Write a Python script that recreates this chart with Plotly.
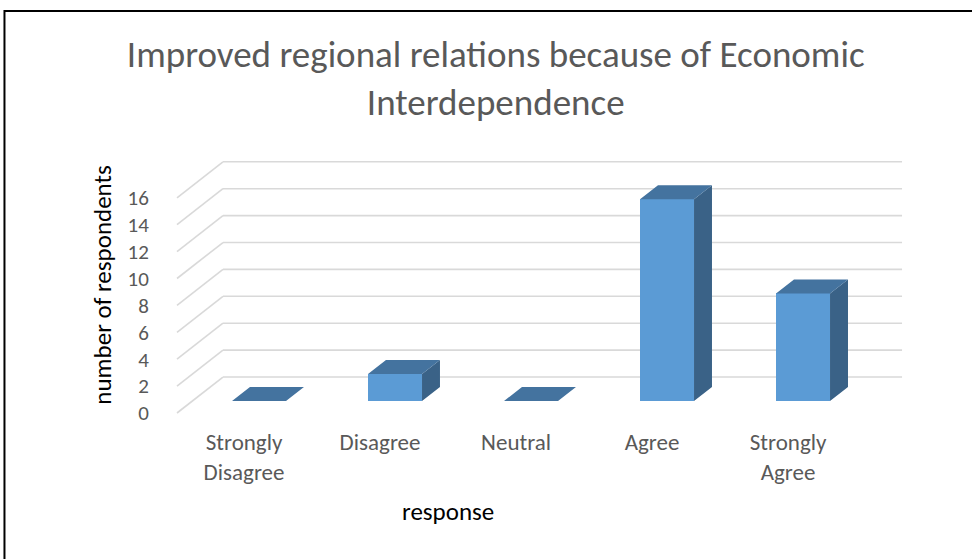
import plotly.graph_objects as go

# ---- data ----
categories = ["Strongly Disagree", "Disagree", "Neutral", "Agree", "Strongly Agree"]
category_labels = ["Strongly<br>Disagree", "Disagree", "Neutral", "Agree", "Strongly<br>Agree"]
values = [0, 2, 0, 15, 8]
y_ticks = [0, 2, 4, 6, 8, 10, 12, 14, 16]

# ---- pseudo-3D geometry (data units; x = category index, y = value) ----
BAR_W = 0.397
DEPTH_DX, DEPTH_DY = 0.132, 1.04       # bar depth
FLOOR_DY = -0.892                       # front floor edge relative to bar plane
WALL_DY = 1.784                         # back wall relative to bar plane
WALL_LEFT_X, WALL_RIGHT_X = -0.265, 4.728
FRONT_LEFT_X = -0.603
LABEL_SHIFT = -0.11

FRONT = "#5B9BD5"
TOP = "#44739F"
SIDE = "#3A6287"
GRID = "#D9D9D9"
FONT = "Calibri, Carlito, Lato, sans-serif"

xs = list(range(len(categories)))

fig = go.Figure()

# side faces
sx, sy = [], []
for i, v in zip(xs, values):
    r = i + BAR_W / 2
    sx += [r, r, r + DEPTH_DX, r + DEPTH_DX, r, None]
    sy += [0, v, v + DEPTH_DY, DEPTH_DY, 0, None]
fig.add_trace(go.Scatter(x=sx, y=sy, mode="lines", fill="toself", fillcolor=SIDE,
                         line=dict(width=0, color=SIDE), hoverinfo="skip", showlegend=False))

# front faces
fig.add_trace(go.Bar(x=xs, y=values, width=BAR_W, marker=dict(color=FRONT, line=dict(width=0)),
                     showlegend=False, hovertext=categories, hoverinfo="text+y"))

# top faces
tx, ty = [], []
for i, v in zip(xs, values):
    l, r = i - BAR_W / 2, i + BAR_W / 2
    tx += [l, r, r + DEPTH_DX, l + DEPTH_DX, l, None]
    ty += [v, v, v + DEPTH_DY, v + DEPTH_DY, v, None]
fig.add_trace(go.Scatter(x=tx, y=ty, mode="lines", fill="toself", fillcolor=TOP,
                         line=dict(width=0, color=TOP), hoverinfo="skip", showlegend=False))

# gridlines on back wall + left wall diagonals (drawn below the bars)
shapes = []
for v in y_ticks:
    shapes.append(dict(type="line", xref="x", yref="y", layer="below",
                       x0=FRONT_LEFT_X, y0=v + FLOOR_DY, x1=WALL_LEFT_X, y1=v + WALL_DY,
                       line=dict(color=GRID, width=1.6)))
    shapes.append(dict(type="line", xref="x", yref="y", layer="below",
                       x0=WALL_LEFT_X, y0=v + WALL_DY, x1=WALL_RIGHT_X, y1=v + WALL_DY,
                       line=dict(color=GRID, width=1.6)))
# outer frame
shapes.append(dict(type="rect", xref="paper", yref="paper", x0=-0.2207, x1=1.3, y0=-1.0, y1=1.5148,
                   line=dict(color="black", width=2), fillcolor="rgba(0,0,0,0)", layer="above"))

fig.update_layout(
    width=972, height=559,
    margin=dict(l=170, r=52, t=150, b=139),
    paper_bgcolor="white", plot_bgcolor="white",
    font=dict(family=FONT, color="#595959"),
    title=dict(text="Improved regional relations because of Economic<br>Interdependence",
               x=0.51, xanchor="center", y=0.880, yanchor="middle", yref="container",
               font=dict(size=37, color="#595959", family=FONT)),
    bargap=0,
    xaxis=dict(range=[-0.6545, 4.860], showgrid=False, zeroline=False, showline=False,
               tickmode="array", tickvals=[i + LABEL_SHIFT for i in xs], ticktext=category_labels,
               ticks="outside", ticklen=1, tickcolor="rgba(0,0,0,0)",
               tickfont=dict(size=23, color="#595959", family=FONT)),
    yaxis=dict(range=[-1.4126, 18.662], showgrid=False, zeroline=False, showline=False,
               tickmode="array", tickvals=[v + FLOOR_DY for v in y_ticks],
               ticktext=[str(v) for v in y_ticks],
               ticks="outside", ticklen=16, tickcolor="rgba(0,0,0,0)",
               tickfont=dict(size=21, color="#595959", family=FONT),
               title=dict(text="number of respondents", standoff=8,
                          font=dict(size=25, color="black", family=FONT))),
    annotations=[dict(text="response", xref="paper", yref="paper", x=0.3707, y=-0.3407,
                      xanchor="center", yanchor="middle", showarrow=False,
                      font=dict(size=25, color="black", family=FONT))],
    shapes=shapes,
)

fig.write_html("out.html", config={"displayModeBar": False},
               post_script="document.body.style.margin='0';")
